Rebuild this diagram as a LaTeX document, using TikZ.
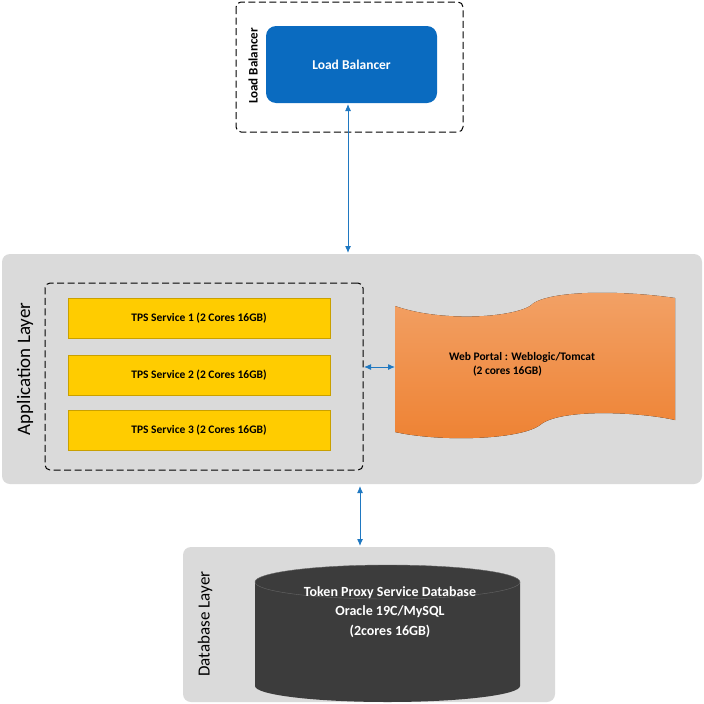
\documentclass[tikz,border=0pt]{standalone}
\usepackage{fontspec}
\setmainfont{Carlito}
\usetikzlibrary{arrows.meta}
\definecolor{lbblue}{HTML}{0A6BC0}
\definecolor{layergray}{HTML}{DADADA}
\definecolor{tpsy}{HTML}{FFCC00}
\definecolor{tpsb}{HTML}{C9A000}
\definecolor{orng}{HTML}{EE8233}
\definecolor{dbdark}{HTML}{3C3C3C}
\definecolor{arr}{HTML}{1F78C1}
\begin{document}
\begin{tikzpicture}[x=1pt,y=-1pt,
  layer/.style={fill=layergray,draw=none,rounded corners=8pt},
  dashbox/.style={draw=black,dashed,dash pattern=on 7pt off 3.5pt,rounded corners=5pt,line width=1pt},
  tps/.style={draw=tpsb,fill=tpsy,minimum width=262pt,minimum height=40pt,inner sep=0pt,font=\bfseries\fontsize{11.5}{13}\selectfont},
  vlabel/.style={rotate=90,font=\bfseries},
  conn/.style={draw=arr,line width=1pt,{Latex[length=7pt,width=6pt]}-{Latex[length=7pt,width=6pt]}}]
\useasboundingbox (0,0) rectangle (704,704);
% load balancer
\draw[dashbox] (236,2) rectangle (463,132);
\node[fill=lbblue,rounded corners=10pt,minimum width=171pt,minimum height=77pt,text=white,font=\bfseries\fontsize{13.5}{16}\selectfont] (lb) at (351.5,64.5) {Load Balancer};
\node[vlabel,font=\bfseries\fontsize{13}{15}\selectfont] (lbl) at (253,66) {Load Balancer};
% application layer
\node[layer,minimum width=700pt,minimum height=230pt] (app) at (352,369) {};
\node[vlabel,font=\fontsize{19}{22}\selectfont] (appl) at (25,369) {Application Layer};
\node[dashbox,minimum width=318pt,minimum height=187pt] (grp) at (204,376.5) {};
\node[tps] (t1) at (199,318) {TPS Service 1 (2 Cores 16GB)};
\node[tps] (t2) at (199,375) {TPS Service 2 (2 Cores 16GB)};
\node[tps] (t3) at (199,430) {TPS Service 3 (2 Cores 16GB)};
\fill[top color=orng!75!white,bottom color=orng] (395,306) .. controls (440,322) and (510,318) .. (530,306)
  .. controls (545,290) and (620,290) .. (675,298) -- (675,420)
  .. controls (640,412) and (560,408) .. (540,425)
  .. controls (520,440) and (440,442) .. (395,432) -- cycle;
\coordinate (wp) at (395,367);
\node[font=\bfseries\fontsize{11.5}{14}\selectfont,align=left] (wpt) at (522,364) {Web Portal : Weblogic/Tomcat\\\hspace*{24pt}(2 cores 16GB)};
% database layer
\node[layer,minimum width=372pt,minimum height=155pt] (db) at (369,624.5) {};
\node[vlabel,font=\fontsize{17}{20}\selectfont] (dbl) at (205,624) {Database Layer};
\fill[dbdark] (255,582) -- (255,686) arc[start angle=180,end angle=360,x radius=132.5pt,y radius=16pt] -- (520,582) -- cycle;
\draw[draw=black!60,fill=dbdark] (387.5,582) ellipse[x radius=132.5pt,y radius=17pt];
\node[text=white,font=\bfseries\fontsize{14}{19.5}\selectfont,align=center] (dbt) at (390,612) {Token Proxy Service Database\\Oracle 19C/MySQL\\(2cores 16GB)};
% connectors
\coordinate (a1) at (348,104);
\coordinate (a2) at (348,253);
\draw[conn] (a1) -- (a2);
\coordinate (h1) at (364,367);
\draw[conn] (h1) -- (wp);
\coordinate (v1) at (360,486);
\coordinate (v2) at (360,546);
\draw[conn] (v1) -- (v2);
\end{tikzpicture}
\end{document}
